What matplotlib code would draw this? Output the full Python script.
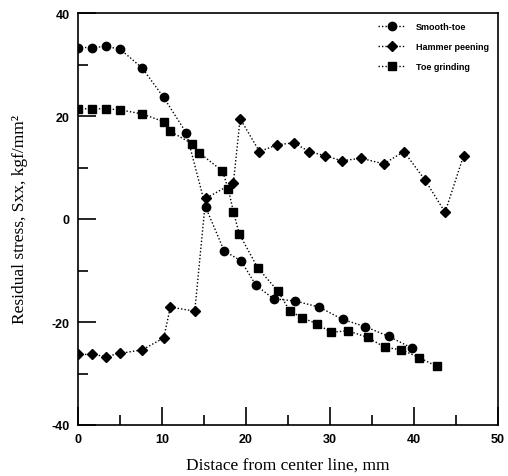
import matplotlib
matplotlib.use("Agg")
import matplotlib.pyplot as plt
from matplotlib.ticker import MultipleLocator

plt.rcParams["axes.unicode_minus"] = False

smooth_x = [0, 1.7, 3.3, 5.0, 7.65, 10.2, 12.9, 15.2, 17.4, 19.4, 21.2, 23.3, 25.8, 28.7, 31.5, 34.2, 37.0, 39.8]
smooth_y = [33.3, 33.3, 33.5, 33.0, 29.3, 23.6, 16.7, 2.3, -6.2, -8.1, -12.9, -15.5, -15.9, -17.1, -19.5, -20.9, -22.8, -25.1]

hammer_x = [0, 1.7, 3.3, 5.0, 7.65, 10.2, 11.0, 13.9, 15.2, 18.5, 19.3, 21.6, 23.7, 25.7, 27.5, 29.4, 31.4, 33.7, 36.4, 38.8, 41.3, 43.7, 45.9]
hammer_y = [-26.3, -26.3, -26.7, -26.1, -25.4, -23.1, -17.1, -17.9, 4.0, 7.0, 19.5, 13.1, 14.4, 14.8, 13.1, 12.3, 11.3, 11.8, 10.7, 13.1, 7.6, 1.3, 12.3]

grind_x = [0, 1.7, 3.3, 5.0, 7.65, 10.2, 10.9, 13.6, 14.4, 17.2, 17.9, 18.5, 19.2, 21.4, 23.8, 25.2, 26.7, 28.4, 30.1, 32.1, 34.5, 36.5, 38.5, 40.6, 42.7]
grind_y = [21.4, 21.4, 21.4, 21.2, 20.4, 18.9, 17.1, 14.6, 12.9, 9.3, 5.8, 1.4, -2.9, -9.5, -14.0, -17.8, -19.2, -20.3, -22.0, -21.7, -23.0, -24.9, -25.4, -26.9, -28.6]

labels = ["Smooth-toe", "Hammer peening", "Toe grinding"]

fig = plt.figure(figsize=(5.08, 4.77), dpi=100)
ax = fig.add_axes([78/508, 1-426/477, 420/508, 412/477])

kw = dict(color="black", linestyle=(0, (1, 1.5)), linewidth=1.0)
ax.plot(smooth_x, smooth_y, marker="o", markersize=6, label=labels[0], **kw)
ax.plot(hammer_x, hammer_y, marker="D", markersize=5, label=labels[1], **kw)
ax.plot(grind_x, grind_y, marker="s", markersize=6, label=labels[2], **kw)

ax.set_xlim(0, 50)
ax.set_ylim(-40, 40)
ax.xaxis.set_major_locator(MultipleLocator(10))
ax.xaxis.set_minor_locator(MultipleLocator(5))
ax.yaxis.set_major_locator(MultipleLocator(20))
ax.yaxis.set_minor_locator(MultipleLocator(10))
ax.tick_params(which="both", direction="in", top=False, right=False, width=1.2)
ax.tick_params(which="major", length=13, pad=6)
ax.tick_params(which="minor", length=7)
for lab in ax.get_xticklabels() + ax.get_yticklabels():
    lab.set_fontweight("bold")
    lab.set_fontsize(9)
    lab.set_family("Liberation Sans")
for s in ax.spines.values():
    s.set_linewidth(1.2)

ax.set_xlabel("Distace from center line, mm", family="Liberation Serif", fontsize=12.5, labelpad=8)
ax.set_ylabel("Residual stress, Sxx, kgf/mm\u00b2", family="Liberation Serif", fontsize=12.5, labelpad=17)

leg = ax.legend(loc="upper right", frameon=False, prop={"family": "Liberation Sans", "weight": "bold", "size": 6.5},
                handlelength=3, labelspacing=1.2, borderaxespad=0.6, handletextpad=1.2)

fig.savefig("out.png", dpi=100)
